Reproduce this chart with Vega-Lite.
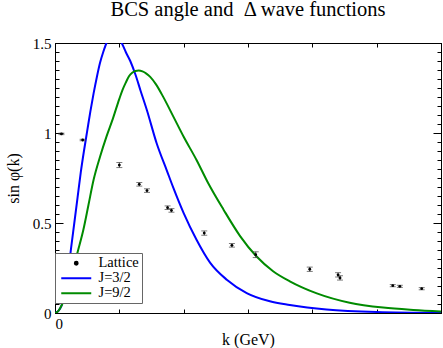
{
  "$schema": "https://vega.github.io/schema/vega-lite/v6.json",
  "width": 386,
  "height": 270,
  "autosize": {"type": "none"},
  "padding": {"left": 55, "top": 43, "right": 2, "bottom": 35},
  "background": "white",
  "config": {
    "view": {"stroke": "black", "strokeWidth": 1},
    "axis": {"domainColor": "black", "tickColor": "black", "labelColor": "black", "titleColor": "black", "labelFont": "Liberation Serif", "titleFont": "Liberation Serif", "labelFontSize": 15, "titleFontSize": 16, "titleFontWeight": "normal", "grid": false}
  },
  "title": {"text": "BCS angle and \u00a0Δ wave functions", "font": "Liberation Serif", "fontSize": 20.5, "fontWeight": "normal", "color": "black", "frame": "group", "anchor": "middle", "baseline": "alphabetic", "offset": 0},
  "datasets": {
    "curves": [
      {"series": "J=3/2", "k": 0, "v": 0},
      {"series": "J=3/2", "k": 0.05, "v": 0.01},
      {"series": "J=3/2", "k": 0.1, "v": 0.04},
      {"series": "J=3/2", "k": 0.15, "v": 0.1},
      {"series": "J=3/2", "k": 0.2, "v": 0.21},
      {"series": "J=3/2", "k": 0.25, "v": 0.36},
      {"series": "J=3/2", "k": 0.3, "v": 0.5},
      {"series": "J=3/2", "k": 0.35, "v": 0.64},
      {"series": "J=3/2", "k": 0.4, "v": 0.78},
      {"series": "J=3/2", "k": 0.45, "v": 0.9},
      {"series": "J=3/2", "k": 0.5, "v": 1.01},
      {"series": "J=3/2", "k": 0.55, "v": 1.12},
      {"series": "J=3/2", "k": 0.6, "v": 1.22},
      {"series": "J=3/2", "k": 0.65, "v": 1.31},
      {"series": "J=3/2", "k": 0.7, "v": 1.39},
      {"series": "J=3/2", "k": 0.75, "v": 1.45},
      {"series": "J=3/2", "k": 0.8, "v": 1.5},
      {"series": "J=3/2", "k": 0.85, "v": 1.53},
      {"series": "J=3/2", "k": 0.9, "v": 1.545},
      {"series": "J=3/2", "k": 0.95, "v": 1.54},
      {"series": "J=3/2", "k": 1.0, "v": 1.52},
      {"series": "J=3/2", "k": 1.05, "v": 1.49},
      {"series": "J=3/2", "k": 1.1, "v": 1.45},
      {"series": "J=3/2", "k": 1.17, "v": 1.4},
      {"series": "J=3/2", "k": 1.25, "v": 1.325},
      {"series": "J=3/2", "k": 1.33, "v": 1.235},
      {"series": "J=3/2", "k": 1.43, "v": 1.125},
      {"series": "J=3/2", "k": 1.58, "v": 0.943},
      {"series": "J=3/2", "k": 1.74, "v": 0.79},
      {"series": "J=3/2", "k": 1.84, "v": 0.695},
      {"series": "J=3/2", "k": 2.0, "v": 0.555},
      {"series": "J=3/2", "k": 2.2, "v": 0.407},
      {"series": "J=3/2", "k": 2.41, "v": 0.28},
      {"series": "J=3/2", "k": 2.67, "v": 0.185},
      {"series": "J=3/2", "k": 2.98, "v": 0.111},
      {"series": "J=3/2", "k": 3.34, "v": 0.065},
      {"series": "J=3/2", "k": 3.65, "v": 0.045},
      {"series": "J=3/2", "k": 4.22, "v": 0.02},
      {"series": "J=3/2", "k": 5.0, "v": 0.006},
      {"series": "J=3/2", "k": 6.0, "v": 0.001},
      {"series": "J=9/2", "k": 0, "v": 0},
      {"series": "J=9/2", "k": 0.05, "v": 0.01},
      {"series": "J=9/2", "k": 0.1, "v": 0.04},
      {"series": "J=9/2", "k": 0.15, "v": 0.08},
      {"series": "J=9/2", "k": 0.2, "v": 0.14},
      {"series": "J=9/2", "k": 0.25, "v": 0.2},
      {"series": "J=9/2", "k": 0.3, "v": 0.27},
      {"series": "J=9/2", "k": 0.36, "v": 0.35},
      {"series": "J=9/2", "k": 0.44, "v": 0.461},
      {"series": "J=9/2", "k": 0.52, "v": 0.6},
      {"series": "J=9/2", "k": 0.6, "v": 0.74},
      {"series": "J=9/2", "k": 0.7, "v": 0.868},
      {"series": "J=9/2", "k": 0.8, "v": 0.98},
      {"series": "J=9/2", "k": 0.9, "v": 1.08},
      {"series": "J=9/2", "k": 1.0, "v": 1.19},
      {"series": "J=9/2", "k": 1.05, "v": 1.24},
      {"series": "J=9/2", "k": 1.1, "v": 1.28},
      {"series": "J=9/2", "k": 1.15, "v": 1.315},
      {"series": "J=9/2", "k": 1.2, "v": 1.335},
      {"series": "J=9/2", "k": 1.25, "v": 1.345},
      {"series": "J=9/2", "k": 1.3, "v": 1.347},
      {"series": "J=9/2", "k": 1.36, "v": 1.342},
      {"series": "J=9/2", "k": 1.42, "v": 1.33},
      {"series": "J=9/2", "k": 1.48, "v": 1.312},
      {"series": "J=9/2", "k": 1.57, "v": 1.27},
      {"series": "J=9/2", "k": 1.68, "v": 1.202},
      {"series": "J=9/2", "k": 1.84, "v": 1.091},
      {"series": "J=9/2", "k": 2.0, "v": 0.979},
      {"series": "J=9/2", "k": 2.2, "v": 0.85},
      {"series": "J=9/2", "k": 2.38, "v": 0.722},
      {"series": "J=9/2", "k": 2.62, "v": 0.574},
      {"series": "J=9/2", "k": 2.88, "v": 0.426},
      {"series": "J=9/2", "k": 3.13, "v": 0.315},
      {"series": "J=9/2", "k": 3.39, "v": 0.232},
      {"series": "J=9/2", "k": 3.65, "v": 0.176},
      {"series": "J=9/2", "k": 4.07, "v": 0.109},
      {"series": "J=9/2", "k": 4.58, "v": 0.057},
      {"series": "J=9/2", "k": 5.1, "v": 0.03},
      {"series": "J=9/2", "k": 5.57, "v": 0.017},
      {"series": "J=9/2", "k": 6.0, "v": 0.009}
    ],
    "lattice": [
      {"k": 0.1, "v": 0.995, "err": 0.004},
      {"k": 0.43, "v": 0.961, "err": 0.004},
      {"k": 1.0, "v": 0.822, "err": 0.014},
      {"k": 1.31, "v": 0.715, "err": 0.01},
      {"k": 1.43, "v": 0.68, "err": 0.01},
      {"k": 1.75, "v": 0.585, "err": 0.01},
      {"k": 1.81, "v": 0.57, "err": 0.01},
      {"k": 2.32, "v": 0.444, "err": 0.012},
      {"k": 2.75, "v": 0.376, "err": 0.01},
      {"k": 3.12, "v": 0.324, "err": 0.016},
      {"k": 3.96, "v": 0.243, "err": 0.012},
      {"k": 4.4, "v": 0.212, "err": 0.012},
      {"k": 4.43, "v": 0.195, "err": 0.012},
      {"k": 5.25, "v": 0.152, "err": 0.006},
      {"k": 5.36, "v": 0.148, "err": 0.006},
      {"k": 5.7, "v": 0.135, "err": 0.006}
    ]
  },
  "resolve": {"axis": {"x": "independent", "y": "independent"}},
  "layer": [
    {
      "data": {"name": "curves"},
      "mark": {"type": "line", "interpolate": "monotone", "strokeWidth": 2, "clip": true},
      "encoding": {
        "x": {"field": "k", "type": "quantitative", "scale": {"domain": [0, 6], "nice": false},
          "axis": {"orient": "bottom", "values": [0, 1, 2, 3, 4, 5, 6], "tickSize": -4, "labelPadding": 7, "labelExpr": "datum.value === 0 ? '0' : ''", "title": "k (GeV)", "titleX": 193, "titleY": 31, "titleBaseline": "alphabetic", "titleAlign": "center"}},
        "y": {"field": "v", "type": "quantitative", "scale": {"domain": [0, 1.5], "nice": false},
          "axis": {"orient": "left", "values": [0, 0.05, 0.1, 0.15, 0.2, 0.25, 0.3, 0.35, 0.4, 0.45, 0.5, 0.55, 0.6, 0.65, 0.7, 0.75, 0.8, 0.85, 0.9, 0.95, 1, 1.05, 1.1, 1.15, 1.2, 1.25, 1.3, 1.35, 1.4, 1.45, 1.5],
            "tickSize": {"condition": {"test": "abs(datum.value*2 - round(datum.value*2)) < 0.000001", "value": -8}, "value": -4},
            "labelExpr": "abs(datum.value*2 - round(datum.value*2)) < 0.000001 ? toString(datum.value) : ''",
            "labelPadding": 12, "title": "sin φ(k)", "titleX": -42, "titleY": 135, "titleAngle": -90, "titleAlign": "center", "titleBaseline": "middle"}},
        "color": {"field": "series", "type": "nominal",
          "scale": {"domain": ["Lattice", "J=3/2", "J=9/2"], "range": ["black", "#0000ff", "#008b00"]},
          "legend": {"orient": "none", "legendX": 0, "legendY": 210, "direction": "vertical", "title": null, "padding": 3, "strokeColor": "#666666", "fillColor": "white", "cornerRadius": 0,
            "labelFont": "Liberation Serif", "labelFontSize": 14.5, "labelColor": "black", "symbolType": "M-3,0H3", "symbolSize": 100, "symbolStrokeWidth": 2, "symbolOffset": 11, "labelOffset": 15, "rowPadding": 0,
            "encode": {"symbols": {"update": {
              "shape": {"signal": "datum.value === 'Lattice' ? 'circle' : 'M-3,0H3'"},
              "size": {"signal": "datum.value === 'Lattice' ? 8 : 100"},
              "fill": {"signal": "datum.value === 'Lattice' ? 'black' : 'transparent'"},
              "stroke": {"signal": "datum.value === 'Lattice' ? 'transparent' : scale('color', datum.value)"},
              "strokeWidth": {"value": 2},
              "opacity": {"value": 1}}}}}}
      }
    },
    {
      "data": {"name": "lattice"},
      "mark": {"type": "errorbar", "color": "#444444", "ticks": {"size": 6, "color": "#444444"}},
      "encoding": {
        "x": {"field": "k", "type": "quantitative", "axis": null},
        "y": {"field": "v", "type": "quantitative", "axis": null},
        "yError": {"field": "err"}
      }
    },
    {
      "data": {"name": "lattice"},
      "mark": {"type": "point", "filled": true, "size": 8, "color": "black", "opacity": 1},
      "encoding": {
        "x": {"field": "k", "type": "quantitative",
          "axis": {"orient": "top", "values": [0, 1, 2, 3, 4, 5, 6], "tickSize": -4, "labels": false, "title": null}},
        "y": {"field": "v", "type": "quantitative",
          "axis": {"orient": "right", "values": [0, 0.05, 0.1, 0.15, 0.2, 0.25, 0.3, 0.35, 0.4, 0.45, 0.5, 0.55, 0.6, 0.65, 0.7, 0.75, 0.8, 0.85, 0.9, 0.95, 1, 1.05, 1.1, 1.15, 1.2, 1.25, 1.3, 1.35, 1.4, 1.45, 1.5],
            "tickSize": {"condition": {"test": "abs(datum.value*2 - round(datum.value*2)) < 0.000001", "value": -8}, "value": -4},
            "labels": false, "title": null}}
      }
    }
  ]
}
